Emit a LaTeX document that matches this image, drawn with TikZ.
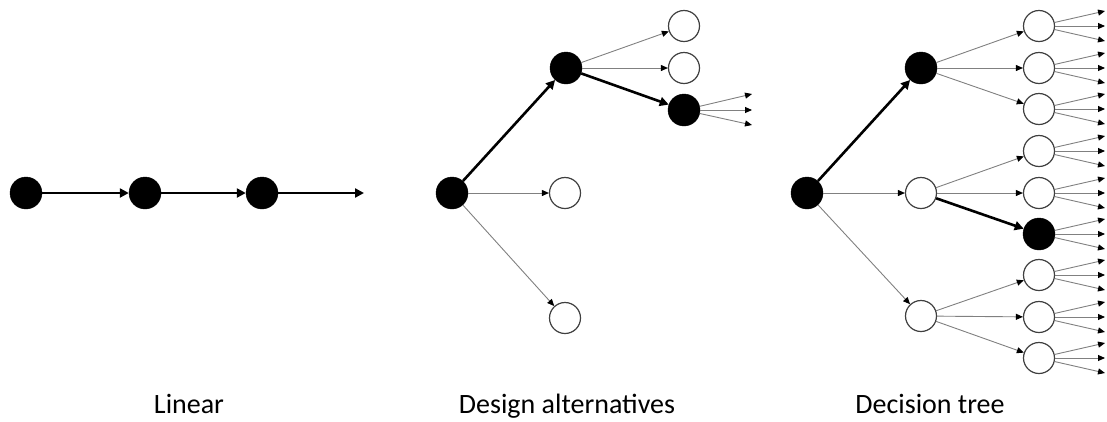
\documentclass[tikz,border=0pt]{standalone}
\usepackage{fontspec}
\setmainfont{Carlito}
\usetikzlibrary{arrows.meta}
\begin{document}
\begin{tikzpicture}[x=1pt,y=-1pt,
  full/.style={circle,fill=black,draw=black,minimum size=32pt,inner sep=0pt},
  hollow/.style={circle,fill=white,draw=black!75,line width=1.2pt,minimum size=31pt,inner sep=0pt},
  chosen/.style={draw=black,line width=2.6pt,-{Triangle[length=9pt,width=9pt]}},
  other/.style={draw=black!50,line width=0.9pt,-{Triangle[length=7pt,width=6pt,color=black]}},
  caption/.style={font=\fontsize{28}{34}\selectfont,anchor=base,inner sep=0pt}]
\useasboundingbox (0,0) rectangle (1107,421);

% ---- Linear ----
\node[full] (l1) at (26,193) {};
\node[full] (l2) at (145,193) {};
\node[full] (l3) at (262,193) {};
\coordinate (lend) at (364,193);
\draw[chosen] (l1) -- (l2);
\draw[chosen] (l2) -- (l3);
\draw[chosen] (l3) -- (lend);
\node[caption] (capL) at (189,413) {Linear};

% ---- Design alternatives ----
\node[full] (dR) at (452,193) {};
\node[full] (dA) at (566,68) {};
\node[hollow] (dB) at (565,193) {};
\node[hollow] (dC) at (565,318) {};
\node[hollow] (dA1) at (684,26) {};
\node[hollow] (dA2) at (684,68) {};
\node[full] (dA3) at (684,110) {};
\coordinate (dx1) at (752,94);
\coordinate (dx2) at (752,110);
\coordinate (dx3) at (752,125);
\draw[chosen] (dR) -- (dA);
\draw[other] (dR) -- (dB);
\draw[other] (dR) -- (dC);
\draw[other] (dA) -- (dA1);
\draw[other] (dA) -- (dA2);
\draw[chosen] (dA) -- (dA3);
\foreach \k in {1,2,3} \draw[other] (dA3) -- (dx\k);
\node[caption] (capD) at (567,413) {Design alternatives};

% ---- Decision tree ----
\node[full] (tR) at (807,193) {};
\node[full] (tA) at (921,68) {};
\node[hollow] (tB) at (921,193) {};
\node[hollow] (tC) at (921,316) {};
\foreach \i/\y in {1/26,2/68,3/109,4/151,5/193,7/275,8/317,9/358}
  \node[hollow] (tL\i) at (1039,\y) {};
\node[full] (tL6) at (1039,234) {};
\draw[chosen] (tR) -- (tA);
\draw[other] (tR) -- (tB);
\draw[other] (tR) -- (tC);
\foreach \i in {1,2,3} \draw[other] (tA) -- (tL\i);
\draw[other] (tB) -- (tL4);
\draw[other] (tB) -- (tL5);
\draw[chosen] (tB) -- (tL6);
\foreach \i in {7,8,9} \draw[other] (tC) -- (tL\i);
\foreach \i/\y in {1/26,2/68,3/109,4/151,5/193,6/234,7/275,8/317,9/358} {
  \coordinate (t\i a) at (1105,{\y-15});
  \coordinate (t\i b) at (1105,\y);
  \coordinate (t\i c) at (1105,{\y+15});
  \draw[other] (tL\i) -- (t\i a);
  \draw[other] (tL\i) -- (t\i b);
  \draw[other] (tL\i) -- (t\i c);
}
\node[caption] (capT) at (930,413) {Decision tree};
\end{tikzpicture}
\end{document}
